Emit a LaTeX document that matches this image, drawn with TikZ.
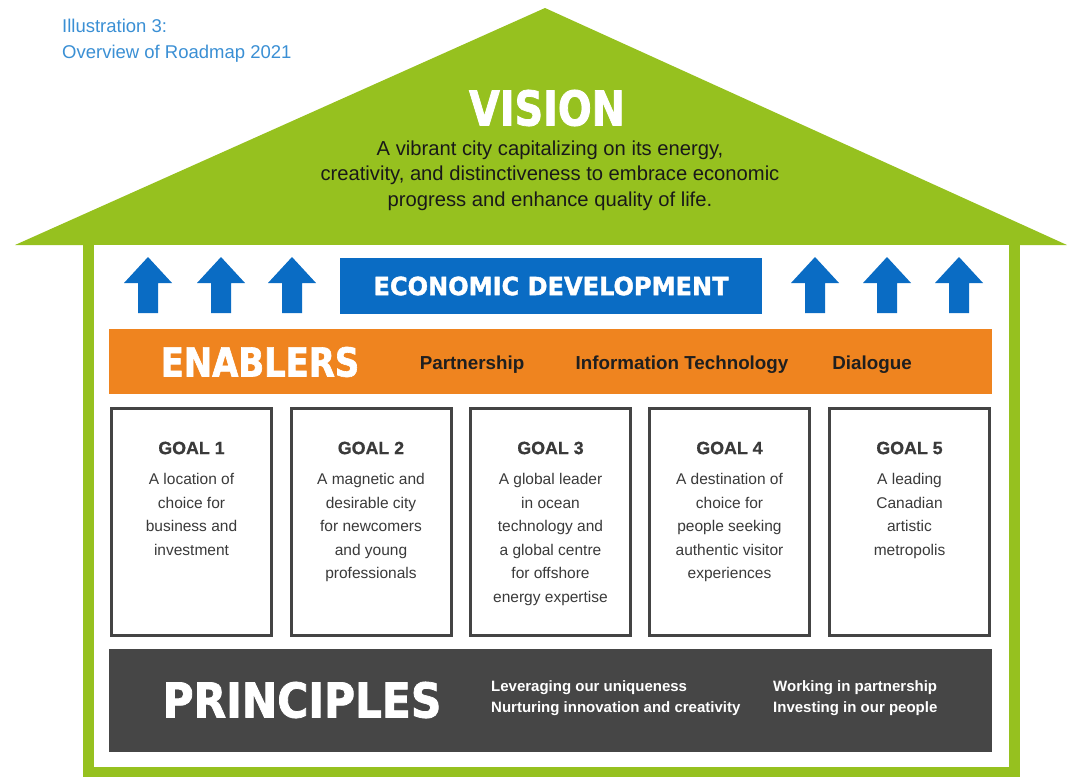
\documentclass[tikz,border=0pt]{standalone}
\usepackage{fontspec}
\setmainfont{Liberation Sans}
\newfontfamily\heavyfont{DejaVu Sans Condensed Bold}[FakeBold=1.6]
\definecolor{housegreen}{HTML}{96C11F}
\definecolor{econblue}{HTML}{0A6CC4}
\definecolor{enorange}{HTML}{EF841F}
\definecolor{prgray}{HTML}{464646}
\definecolor{capblue}{HTML}{3A8FD4}
\definecolor{goalgray}{HTML}{444444}
\definecolor{goaltext}{HTML}{3A3A3A}
\begin{document}
\begin{tikzpicture}[x=1pt,y=-1pt,
  band/.style={inner sep=0pt, minimum width=883pt},
  goalbox/.style={draw=goalgray, line width=3pt, fill=white, inner sep=0pt,
    minimum width=160pt, minimum height=227pt},
  goaltitle/.style={font=\fontsize{17.8}{20}\selectfont\bfseries\addfontfeatures{FakeBold=0.8}, text=goaltext},
  goalbody/.style={font=\fontsize{15.5}{23.5}\selectfont, text=goaltext,
    align=center, anchor=north, inner sep=0pt},
  enabler/.style={font=\fontsize{18.8}{22}\selectfont\bfseries, text=black!88, anchor=base, inner sep=0pt},
  heavy/.style={text=white, inner sep=0pt},
  upblue/.pic={\fill[econblue] (-10,56) -- (-10,26) -- (-24,26) -- (0,0)
      -- (24,26) -- (10,26) -- (10,56) -- cycle;}]
\useasboundingbox (0,0) rectangle (1067,777);

% caption
\node[anchor=north west, inner sep=0pt, align=left, text=capblue,
  font=\fontsize{18.5}{25.5}\selectfont] (caption) at (62,19)
  {Illustration 3:\\Overview of Roadmap 2021};

% house: roof and walls
\fill[housegreen] (15,245) -- (545,8) -- (1067,245) -- cycle;
\fill[housegreen] (83,240) rectangle (1020,777);
\fill[white] (94,245) rectangle (1009,767);

% vision
\node[heavy, font=\heavyfont\addfontfeatures{FakeStretch=0.92}\fontsize{48}{48}\selectfont] (vision) at (547,108) {VISION};
\node[anchor=north, inner sep=0pt, align=center, text=black!90,
  font=\fontsize{20.2}{25.5}\selectfont] (visiontext) at (550,140.5)
  {A vibrant city capitalizing on its energy,\\
   creativity, and distinctiveness to embrace economic\\
   progress and enhance quality of life.};

% economic development with arrows
\node[fill=econblue, inner sep=0pt, minimum width=422pt, minimum height=56pt] (econ) at (551,286) {};
\node[heavy, font=\heavyfont\addfontfeatures{FakeStretch=1.07}\fontsize{25}{25}\selectfont] (econlabel) at (econ) {ECONOMIC DEVELOPMENT};
\foreach \ax in {148,221,292,815,887,959}
  \pic at (\ax,257) {upblue};

% enablers
\node[band, fill=enorange, minimum height=65pt] (enablers) at (550.5,361.5) {};
\node[heavy, font=\heavyfont\addfontfeatures{FakeStretch=0.94}\fontsize{40}{40}\selectfont] (enlabel) at (260,362) {ENABLERS};
\node[enabler] (en1) at (472,369) {Partnership};
\node[enabler] (en2) at (682,369) {Information Technology};
\node[enabler] (en3) at (872,369) {Dialogue};

% goals
\node[goalbox] (g1) at (191.5,522) {};
\node[goalbox] (g2) at (371,522) {};
\node[goalbox] (g3) at (550.5,522) {};
\node[goalbox] (g4) at (729.5,522) {};
\node[goalbox] (g5) at (909.5,522) {};
\node[goaltitle] (g1t) at (191.5,448) {GOAL 1};
\node[goaltitle] (g2t) at (371,448) {GOAL 2};
\node[goaltitle] (g3t) at (550.5,448) {GOAL 3};
\node[goaltitle] (g4t) at (729.5,448) {GOAL 4};
\node[goaltitle] (g5t) at (909.5,448) {GOAL 5};
\node[goalbody] (g1b) at (191.5,473.5) {A location of\\choice for\\business and\\investment};
\node[goalbody] (g2b) at (371,473.5) {A magnetic and\\desirable city\\for newcomers\\and young\\professionals};
\node[goalbody] (g3b) at (550.5,473.5) {A global leader\\in ocean\\technology and\\a global centre\\for offshore\\energy expertise};
\node[goalbody] (g4b) at (729.5,473.5) {A destination of\\choice for\\people seeking\\authentic visitor\\experiences};
\node[goalbody] (g5b) at (909.5,473.5) {A leading\\Canadian\\artistic\\metropolis};

% principles
\node[band, fill=prgray, minimum height=103pt] (principles) at (550.5,700.5) {};
\node[heavy, font=\heavyfont\addfontfeatures{FakeStretch=0.98}\fontsize{48}{48}\selectfont] (prlabel) at (302,700) {PRINCIPLES};
\node[anchor=north west, inner sep=0pt, align=left, text=white,
  font=\fontsize{15}{21.5}\selectfont\bfseries] (pr1) at (491,680)
  {Leveraging our uniqueness\\Nurturing innovation and creativity};
\node[anchor=north west, inner sep=0pt, align=left, text=white,
  font=\fontsize{15}{21.5}\selectfont\bfseries] (pr2) at (773,680)
  {Working in partnership\\Investing in our people};
\end{tikzpicture}
\end{document}
